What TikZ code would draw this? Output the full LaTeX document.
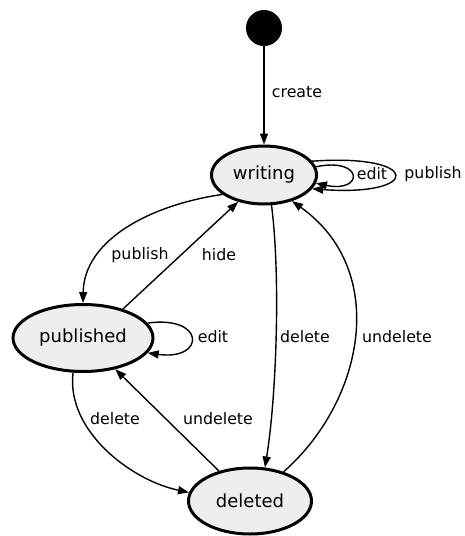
\documentclass[tikz,border=0pt]{standalone}
\usepackage{fontspec}
\setmainfont{DejaVu Sans}
\usetikzlibrary{shapes.geometric,arrows.meta}
\definecolor{statefill}{HTML}{EEEEEE}
\begin{document}
\begin{tikzpicture}[x=1pt,y=-1pt,
  state/.style={ellipse,draw=black,line width=3pt,fill=statefill,inner sep=0pt,font=\fontsize{18}{21}\selectfont},
  edge/.style={line width=1.4pt,-{Triangle[length=11pt,width=8pt]}},
  lbl/.style={font=\fontsize{15.8}{18}\selectfont,inner sep=0pt}]
\useasboundingbox (0,0) rectangle (464,536);
\node[circle,fill=black,minimum size=36pt,inner sep=0pt] (init) at (264,28) {};
\node[state,minimum width=105pt,minimum height=58pt] (writing) at (264,175) {writing};
\node[state,minimum width=140pt,minimum height=67pt] (published) at (83,338) {published};
\node[state,minimum width=123pt,minimum height=66pt] (deleted) at (250,501) {deleted};

\draw[edge] (init) -- (writing);
\node[lbl] (lcreate) at (297,92) {create};
\draw[edge] (writing.9) .. controls +(48,-10) and +(48,10) .. (writing.-9);
\node[lbl] (ledit) at (372,174) {edit};
\draw[edge] (writing.16) .. controls +(110,-8) and +(110,8) .. (writing.-16);
\node[lbl] (lpub) at (433,174) {publish};

\draw[edge] (writing.205) .. controls (150,205) and (84,240) .. (published.north);
\node[lbl] (lpub2) at (140,255) {publish};
\draw[edge] (published.36) -- (writing.226);
\node[lbl] (lhide) at (219,255) {hide};
\draw[edge] (published.13) .. controls +(58,-8) and +(58,8) .. (published.-13);
\node[lbl] (ledit2) at (213,337) {edit};

\draw[edge] (writing.-76) .. controls (281,280) and (276,400) .. (deleted.66);
\node[lbl] (ldel) at (305,337) {delete};
\draw[edge] (deleted.41) .. controls (365,400) and (389,270) .. (writing.-43);
\node[lbl] (lund) at (397,337) {undelete};

\draw[edge] (published.-106) .. controls (66,430) and (130,480) .. (deleted.172);
\node[lbl] (ldel2) at (115,419) {delete};
\draw[edge] (deleted.136) -- (published.-44);
\node[lbl] (lund2) at (218,419) {undelete};
\end{tikzpicture}
\end{document}
